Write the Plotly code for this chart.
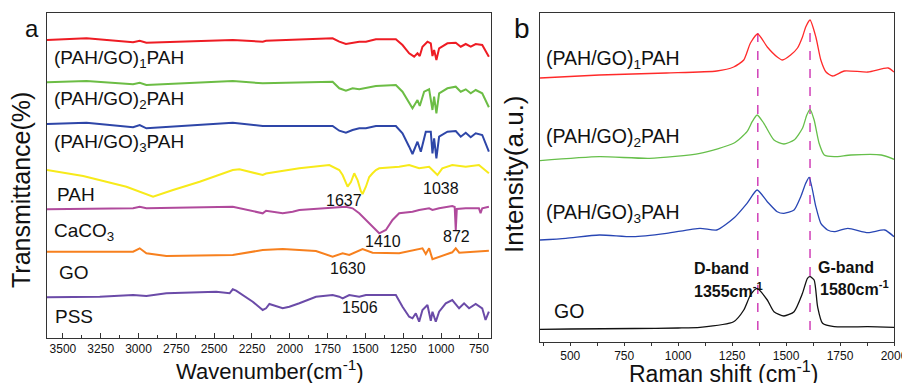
import plotly.graph_objects as go

# ---------------- Panel a: FTIR (wavenumber, transmittance a.u.) ----------------
ftir_red_x = [3605, 3344, 3036, 2992, 2948, 2596, 2377, 2179, 2157, 1717, 1673, 1629, 1585, 1541, 1497, 1431, 1299, 1255, 1211, 1178, 1156, 1141, 1123, 1090, 1068, 1057, 1046, 1031, 1013, 958, 903, 870, 837, 804, 771, 728, 684]
ftir_red_y = [299, 300.7, 296.7, 298.3, 296.3, 298.3, 299, 297.3, 298.3, 300.7, 297.3, 295, 296.3, 297.3, 297.3, 299.7, 299.7, 294, 285.7, 282.3, 285.7, 283, 292.3, 297.3, 295.7, 283, 289, 279, 290.7, 295.7, 296.3, 292.3, 295, 292.3, 295, 294, 282.3]

ftir_green_x = [3605, 3344, 3036, 2992, 2948, 2377, 2179, 1717, 1673, 1629, 1585, 1541, 1431, 1299, 1255, 1211, 1189, 1156, 1141, 1112, 1079, 1057, 1046, 1031, 1013, 958, 903, 870, 837, 804, 771, 728, 684]
ftir_green_y = [256.7, 258, 254.7, 256.3, 254, 258, 255.7, 257.3, 250.7, 248.3, 250.7, 249.7, 253, 254, 247.3, 235.7, 230.7, 239, 233, 247.3, 249.7, 229, 242.3, 225.7, 245.7, 250.7, 252.3, 247.3, 249.7, 245.7, 249, 245.7, 231.7]

ftir_blue_x = [3605, 3344, 3036, 2992, 2948, 2377, 2179, 1717, 1673, 1629, 1585, 1541, 1497, 1431, 1299, 1255, 1211, 1189, 1156, 1134, 1101, 1068, 1057, 1046, 1031, 1013, 958, 903, 870, 837, 804, 771, 728, 684]
ftir_blue_y = [215, 216.3, 211.7, 214, 210.7, 216.3, 213, 213, 208.3, 206.3, 209, 210.7, 210.7, 213, 213, 205.7, 192.3, 185, 197.3, 187.3, 207.3, 207.3, 185.7, 200.7, 180.7, 202.3, 207.3, 208, 202.3, 206.3, 201.7, 205.7, 204, 187.3]

ftir_pah_x = [3605, 3366, 3080, 2904, 2772, 2596, 2377, 2333, 2179, 2157, 1937, 1739, 1673, 1651, 1618, 1596, 1574, 1552, 1530, 1519, 1497, 1475, 1453, 1431, 1409, 1277, 1211, 1145, 1079, 1024, 992, 926, 837, 750, 684]
ftir_pah_y = [169, 163, 152.3, 142.3, 149, 157.3, 169, 169.7, 164, 165.5, 170.7, 174, 169, 164, 152.3, 157, 165.7, 159, 147.7, 145, 152.3, 162, 165.7, 169, 170.7, 172.3, 174, 170.7, 172.3, 164, 170.7, 174, 172.3, 174, 165.7]

ftir_caco3_x = [3605, 3036, 2992, 2948, 2377, 2179, 2157, 2047, 1981, 1937, 1629, 1585, 1541, 1497, 1453, 1409, 1365, 1321, 1277, 1189, 1145, 1079, 1057, 1013, 926, 910, 903, 896, 837, 750, 739, 728, 684]
ftir_caco3_y = [129.7, 130.7, 132.3, 130.7, 132.3, 125.7, 128.3, 125.7, 127.3, 129, 132.3, 130.7, 125.7, 119, 112.3, 105.7, 109, 119, 125.7, 127.3, 129, 130.7, 129, 130.7, 133, 132, 109, 130, 130.7, 130.7, 125.7, 130.7, 132.3]

ftir_go_x = [3605, 3036, 2992, 2948, 2816, 2377, 2179, 2047, 1827, 1717, 1651, 1607, 1519, 1453, 1277, 1123, 1101, 1079, 1057, 1013, 926, 903, 880, 684]
ftir_go_y = [87.3, 87.3, 90.7, 85.7, 83, 84, 89, 90, 88, 82.3, 85.7, 84, 90, 86.3, 85.7, 90.7, 85, 90.7, 79.7, 82.3, 86.7, 90.7, 86.3, 88.3]

ftir_pss_x = [3605, 3256, 3036, 2948, 2816, 2486, 2398, 2377, 2355, 2311, 2245, 2179, 2157, 2135, 2047, 2003, 1937, 1827, 1717, 1673, 1651, 1607, 1541, 1497, 1299, 1255, 1211, 1189, 1167, 1145, 1123, 1090, 1068, 1057, 1035, 1013, 969, 926, 881, 848, 815, 771, 728, 706, 684]
ftir_pss_y = [41.7, 42.3, 44, 43, 45.7, 47.3, 45.7, 49.7, 48.3, 44, 37.3, 29, 30.7, 35, 30.7, 32.3, 35.7, 42.3, 44, 42.3, 40.7, 44, 42.3, 44, 44, 32.3, 22.3, 20.7, 25.7, 17.3, 29, 34, 18.3, 27.3, 17.3, 27.3, 35.7, 39, 30.7, 35.7, 30.7, 35, 30.7, 19, 27.3]

ftir_ticks = [3500, 3250, 3000, 2750, 2500, 2250, 2000, 1750, 1500, 1250, 1000, 750]

# ---------------- Panel b: Raman (shift, intensity a.u.) ----------------
raman_red_x = [360, 635, 946, 1179, 1257, 1304, 1335, 1369, 1413, 1459, 1483, 1521, 1553, 1576, 1591, 1611, 1638, 1661, 1685, 1716, 1770, 1879, 1972, 2000]
raman_red_y = [264, 267, 269, 271, 275, 282, 299, 308, 295, 285, 282, 287, 294, 305, 315, 322, 305, 282, 270, 266, 271, 270, 274, 270]

raman_green_x = [360, 635, 868, 1101, 1257, 1319, 1343, 1366, 1397, 1444, 1490, 1537, 1576, 1596, 1611, 1630, 1653, 1677, 1723, 1801, 1941, 2000]
raman_green_y = [181.3, 185.3, 183.7, 188.7, 198.7, 210.3, 220.3, 227, 218.7, 202, 198, 202, 213.7, 227, 232.7, 222, 198.7, 187, 185.3, 187, 187, 182.7]

raman_blue_x = [360, 480, 635, 791, 946, 1101, 1179, 1257, 1319, 1366, 1413, 1459, 1490, 1537, 1568, 1591, 1607, 1638, 1661, 1692, 1723, 1786, 1879, 1957, 2000]
raman_blue_y = [102, 103.7, 107, 105.3, 108.7, 113.7, 112, 123.7, 138.7, 152, 140.3, 130.3, 128.7, 132, 145.3, 158.7, 164.7, 135.3, 118.7, 112, 110.3, 113.7, 109.3, 112, 105.3]

raman_go_x = [360, 500, 800, 1000, 1101, 1257, 1304, 1335, 1366, 1413, 1444, 1490, 1537, 1576, 1599, 1611, 1630, 1646, 1669, 1723, 1879, 2000]
raman_go_y = [12.7, 13, 13.5, 14, 14.7, 20.3, 32, 47, 53.7, 42, 30.3, 26, 30.3, 48.7, 63.7, 65.3, 62, 35.3, 18.7, 15.3, 15.3, 14.7]

band_positions = [1369, 1611]
band_line_span = [12, 310]
raman_ticks = [500, 750, 1000, 1250, 1500, 1750, 2000]

FONT = "Arial, 'Liberation Sans', sans-serif"

# the page body adds an 8 px offset; size the figure so it fits the 910x383 window exactly
OFF = 8.0
W, H = 910.0 - OFF, 383.0 - OFF
def fx(px):
    return (px - OFF) / W
def fy(py):
    return 1 - (py - OFF) / H

fig = go.Figure()

def ftir(x, y, color):
    fig.add_trace(go.Scatter(x=x, y=y, mode="lines", xaxis="x", yaxis="y",
                             line=dict(color=color, width=2), showlegend=False, hoverinfo="skip"))

def raman(x, y, color):
    fig.add_trace(go.Scatter(x=x, y=y, mode="lines", xaxis="x2", yaxis="y2",
                             line=dict(color=color, width=1.3, shape="spline", smoothing=0.6),
                             showlegend=False, hoverinfo="skip"))

ftir(ftir_red_x, ftir_red_y, "#ee1c24")
ftir(ftir_green_x, ftir_green_y, "#6cbd45")
ftir(ftir_blue_x, ftir_blue_y, "#2e46a8")
ftir(ftir_pah_x, ftir_pah_y, "#f7ea1a")
ftir(ftir_caco3_x, ftir_caco3_y, "#b04a9c")
ftir(ftir_go_x, ftir_go_y, "#f7801e")
ftir(ftir_pss_x, ftir_pss_y, "#6b4ba8")

for bx in band_positions:
    fig.add_trace(go.Scatter(x=[bx, bx], y=band_line_span, mode="lines", xaxis="x2", yaxis="y2",
                             line=dict(color="#d040b8", width=1.5, dash="dash"),
                             showlegend=False, hoverinfo="skip"))

raman(raman_red_x, raman_red_y, "#ff2a2a")
raman(raman_green_x, raman_green_y, "#66bf4a")
raman(raman_blue_x, raman_blue_y, "#2846b4")
raman(raman_go_x, raman_go_y, "#111111")

ann = []
def label(text, x, y, xref, yref, size, xanchor="left", bold=False):
    ann.append(dict(text=f"<b>{text}</b>" if bold else text, x=x, y=y, xref=xref, yref=yref,
                    showarrow=False, xanchor=xanchor, yanchor="middle",
                    font=dict(family=FONT, size=size, color="#111111")))

# panel a labels
label("(PAH/GO)<sub>1</sub>PAH", 3573, 280, "x", "y", 19)
label("(PAH/GO)<sub>2</sub>PAH", 3573, 239, "x", "y", 19)
label("(PAH/GO)<sub>3</sub>PAH", 3573, 196, "x", "y", 19)
label("PAH", 3553, 145, "x", "y", 19)
label("CaCO<sub>3</sub>", 3573, 107, "x", "y", 19)
label("GO", 3540, 67, "x", "y", 19)
label("PSS", 3567, 23, "x", "y", 19)
label("1637", 1640, 139, "x", "y", 16, "center")
label("1038", 1000, 151, "x", "y", 16, "center")
label("1410", 1383, 98, "x", "y", 16, "center")
label("872", 895, 103, "x", "y", 16, "center")
label("1630", 1614, 71, "x", "y", 16, "center")
label("1506", 1534, 32, "x", "y", 16, "center")
# panel b labels
label("(PAH/GO)<sub>1</sub>PAH", 379, 282, "x2", "y2", 19.5)
label("(PAH/GO)<sub>2</sub>PAH", 379, 205, "x2", "y2", 19.5)
label("(PAH/GO)<sub>3</sub>PAH", 379, 129, "x2", "y2", 19.5)
label("GO", 416, 31, "x2", "y2", 19.5)
label("D-band", 1064, 74, "x2", "y2", 16, bold=True)
label("1355cm<sup>-1</sup>", 1064, 52, "x2", "y2", 16, bold=True)
label("G-band", 1638, 75, "x2", "y2", 16, bold=True)
label("1580cm<sup>-1</sup>", 1647, 54, "x2", "y2", 16, bold=True)

def paper(text, px, py, size, angle=0):
    ann.append(dict(text=text, x=fx(px), y=fy(py), xref="paper", yref="paper", showarrow=False,
                    xanchor="center", yanchor="middle", textangle=angle,
                    font=dict(family=FONT, size=size, color="#111111")))

paper("Wavenumber(cm<sup>-1</sup>)", 270, 370, 22)
paper("Raman shift (cm<sup>-1</sup>)", 723, 372, 23)
paper("Transmittance(%)", 21, 190, 25, -90)
paper("Intensity(a.u.)", 514, 174, 26, -90)
paper("a", 32, 28, 24)
paper("b", 522, 28, 28)

axis_common = dict(showline=True, linecolor="#333333", linewidth=1, mirror=True, showgrid=False,
                   zeroline=False, automargin=False)

fig.update_layout(
    width=int(W), height=int(H),
    margin=dict(l=0, r=0, t=0, b=0, pad=0, autoexpand=False),
    paper_bgcolor="white", plot_bgcolor="white",
    annotations=ann,
    xaxis=dict(domain=[fx(47), fx(491)], range=[3605, 670], tickvals=ftir_ticks,
               ticks="inside", ticklen=5, tickcolor="#333333",
               minor=dict(dtick=125, tick0=3500, ticks="inside", ticklen=3, tickcolor="#333333"),
               tickfont=dict(family=FONT, size=12, color="#111111"), anchor="y", **axis_common),
    yaxis=dict(domain=[fy(338), fy(13)], range=[1, 326], showticklabels=False, ticks="",
               anchor="x", **axis_common),
    xaxis2=dict(domain=[fx(540), fx(894)], range=[360, 2000], tickvals=raman_ticks,
                ticks="outside", ticklen=3, tickcolor="#333333",
                minor=dict(dtick=125, tick0=500, ticks="outside", ticklen=3, tickcolor="#333333"),
                tickfont=dict(family=FONT, size=12, color="#111111"), anchor="y2", **axis_common),
    yaxis2=dict(domain=[fy(342), fy(13)], range=[0, 329], showticklabels=False, ticks="",
                anchor="x2", **axis_common),
)

fig.write_html("out.html")
